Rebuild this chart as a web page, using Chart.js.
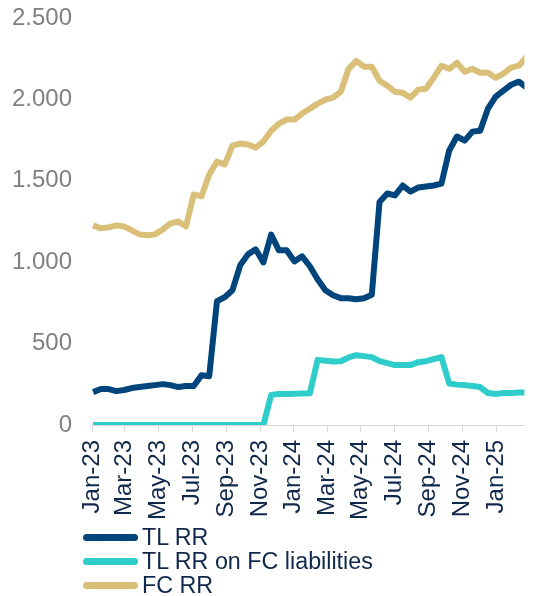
<!DOCTYPE html>
<html>
<head>
<meta charset="utf-8">
<script src="https://cdn.jsdelivr.net/npm/chart.js@4.4.1/dist/chart.umd.min.js"></script>
<style>
    body { margin: 0; background: #fff; font-family: "Liberation Sans", Arial, sans-serif; }
    #wrap { position: relative; width: 533px; height: 596px; overflow: hidden; }
    #legenda { position: absolute; left: 83px; top: 526px; }
    .item { display: flex; align-items: center; height: 23.7px; font-size: 23.3px; color: #10284c; white-space: nowrap; }
    .linha { width: 55px; height: 7px; border-radius: 4px; margin-right: 4px; }
</style>
</head>
<body>
<div id="wrap">
    <canvas id="grafico" width="533" height="525"></canvas>
    <div id="legenda"></div>
</div>

<script>
// biweekly observations
const datas = [
    '2023-01-03','2023-01-17','2023-01-31','2023-02-14','2023-02-28','2023-03-14','2023-03-28','2023-04-11',
    '2023-04-25','2023-05-09','2023-05-23','2023-06-06','2023-06-20','2023-07-04','2023-07-18','2023-08-01',
    '2023-08-15','2023-08-29','2023-09-12','2023-09-26','2023-10-10','2023-10-24','2023-11-07','2023-11-21',
    '2023-12-05','2023-12-19','2024-01-02','2024-01-16','2024-01-30','2024-02-13','2024-02-27','2024-03-12',
    '2024-03-26','2024-04-09','2024-04-23','2024-05-07','2024-05-21','2024-06-04','2024-06-18','2024-07-02',
    '2024-07-16','2024-07-30','2024-08-13','2024-08-27','2024-09-10','2024-09-24','2024-10-08','2024-10-22',
    '2024-11-05','2024-11-19','2024-12-03','2024-12-17','2024-12-31','2025-01-14','2025-01-28','2025-02-11',
    '2025-02-25'
];

const tlRR = [
    202, 221, 221, 208, 215, 227, 233, 239, 245, 251,
    245, 233, 239, 239, 306, 300, 760, 785, 828, 981,
    1048, 1079, 999, 1170, 1073, 1073, 1005, 1036, 975, 895,
    828, 797, 779, 779, 772, 779, 800, 1370, 1422, 1410,
    1471, 1434, 1459, 1465, 1471, 1483, 1686, 1772, 1747, 1802,
    1808, 1943, 2017, 2054, 2090, 2109, 2072
];

const tlRRfc = [
    0, 0, 0, 0, 0, 0, 0, 0, 0, 0,
    0, 0, 0, 0, 0, 0, 0, 0, 0, 0,
    0, 0, 0, 185, 190, 190, 192, 193, 195, 400,
    395, 390, 392, 415, 429, 423, 417, 392, 380, 368,
    368, 368, 386, 392, 405, 417, 255, 248, 245, 239,
    233, 196, 190, 196, 196, 200, 200
];

const fcRR = [
    1226, 1208, 1214, 1226, 1220, 1195, 1171, 1165, 1171, 1201,
    1238, 1250, 1220, 1416, 1404, 1539, 1618, 1600, 1716, 1729,
    1723, 1704, 1741, 1808, 1851, 1876, 1876, 1913, 1943, 1974,
    1998, 2011, 2047, 2188, 2237, 2201, 2201, 2115, 2084, 2047,
    2041, 2011, 2060, 2066, 2133, 2207, 2188, 2225, 2170, 2188,
    2164, 2164, 2133, 2158, 2195, 2207, 2262
];

const tickLabels = ['Jan-23','Mar-23','May-23','Jul-23','Sep-23','Nov-23','Jan-24','Mar-24','May-24','Jul-24','Sep-24','Nov-24','Jan-25'];
const yTickLabels = ['0', '500', '1.000', '1.500', '2.000', '2.500'];

const meses = ['Jan','Feb','Mar','Apr','May','Jun','Jul','Aug','Sep','Oct','Nov','Dec'];
const inicio = Date.UTC(2023, 0, 1);

function dia(str) {
    const p = str.split('-');
    return (Date.UTC(+p[0], +p[1] - 1, +p[2]) - inicio) / 86400000;
}

// tick positions: first day of each labelled month
const tickDias = tickLabels.map(l => {
    const m = meses.indexOf(l.slice(0, 3));
    const a = 2000 + parseInt(l.slice(4), 10);
    return (Date.UTC(a, m, 1) - inicio) / 86400000;
});

const pontos = arr => datas.map((d, i) => ({ x: dia(d), y: arr[i] }));

const series = [
    { label: 'TL RR', valores: tlRR, cor: '#00447c' },
    { label: 'TL RR on FC liabilities', valores: tlRRfc, cor: '#2ecdcb' },
    { label: 'FC RR', valores: fcRR, cor: '#d9bf77' }
];

const fonte = '"Liberation Sans", Arial, sans-serif';

const ctx = document.getElementById('grafico');

new Chart(ctx, {
    type: 'line',
    data: {
        datasets: series.map(s => ({
            label: s.label,
            data: pontos(s.valores),
            borderColor: s.cor,
            backgroundColor: s.cor,
            borderWidth: 6,
            borderJoinStyle: 'round',
            pointRadius: 0,
            tension: 0
        }))
    },
    options: {
        responsive: false,
        animation: false,
        layout: { padding: { top: 18, left: 0, right: 0, bottom: 0 } },
        plugins: {
            legend: { display: false },
            tooltip: { enabled: false }
        },
        scales: {
            x: {
                type: 'linear',
                min: 0,
                max: 782,
                afterBuildTicks: axis => { axis.ticks = tickDias.map(v => ({ value: v })); },
                afterFit: axis => { axis.height = 100; },
                grid: { drawOnChartArea: false, drawTicks: true, tickLength: 7, color: '#d9d9d9' },
                border: { color: '#d9d9d9', width: 1 },
                ticks: {
                    autoSkip: false,
                    maxRotation: 90,
                    minRotation: 90,
                    padding: 8,
                    color: '#10284c',
                    font: { family: fonte, size: 24 },
                    callback: (v, i) => tickLabels[i]
                }
            },
            y: {
                min: 0,
                max: 2500,
                afterFit: axis => { axis.width = 92; },
                // invisible tick marks give the gap between labels and plot
                grid: { display: false, drawTicks: true, tickLength: 20 },
                border: { display: false },
                ticks: {
                    stepSize: 500,
                    padding: 0,
                    color: '#808080',
                    font: { family: fonte, size: 24 },
                    callback: (v, i) => yTickLabels[i]
                }
            }
        }
    }
});

// legend
const legenda = document.getElementById('legenda');
series.forEach(s => {
    const item = document.createElement('div');
    item.className = 'item';
    item.innerHTML = '<span class="linha" style="background:' + s.cor + '"></span>' + s.label;
    legenda.appendChild(item);
});
</script>
</body>
</html>
